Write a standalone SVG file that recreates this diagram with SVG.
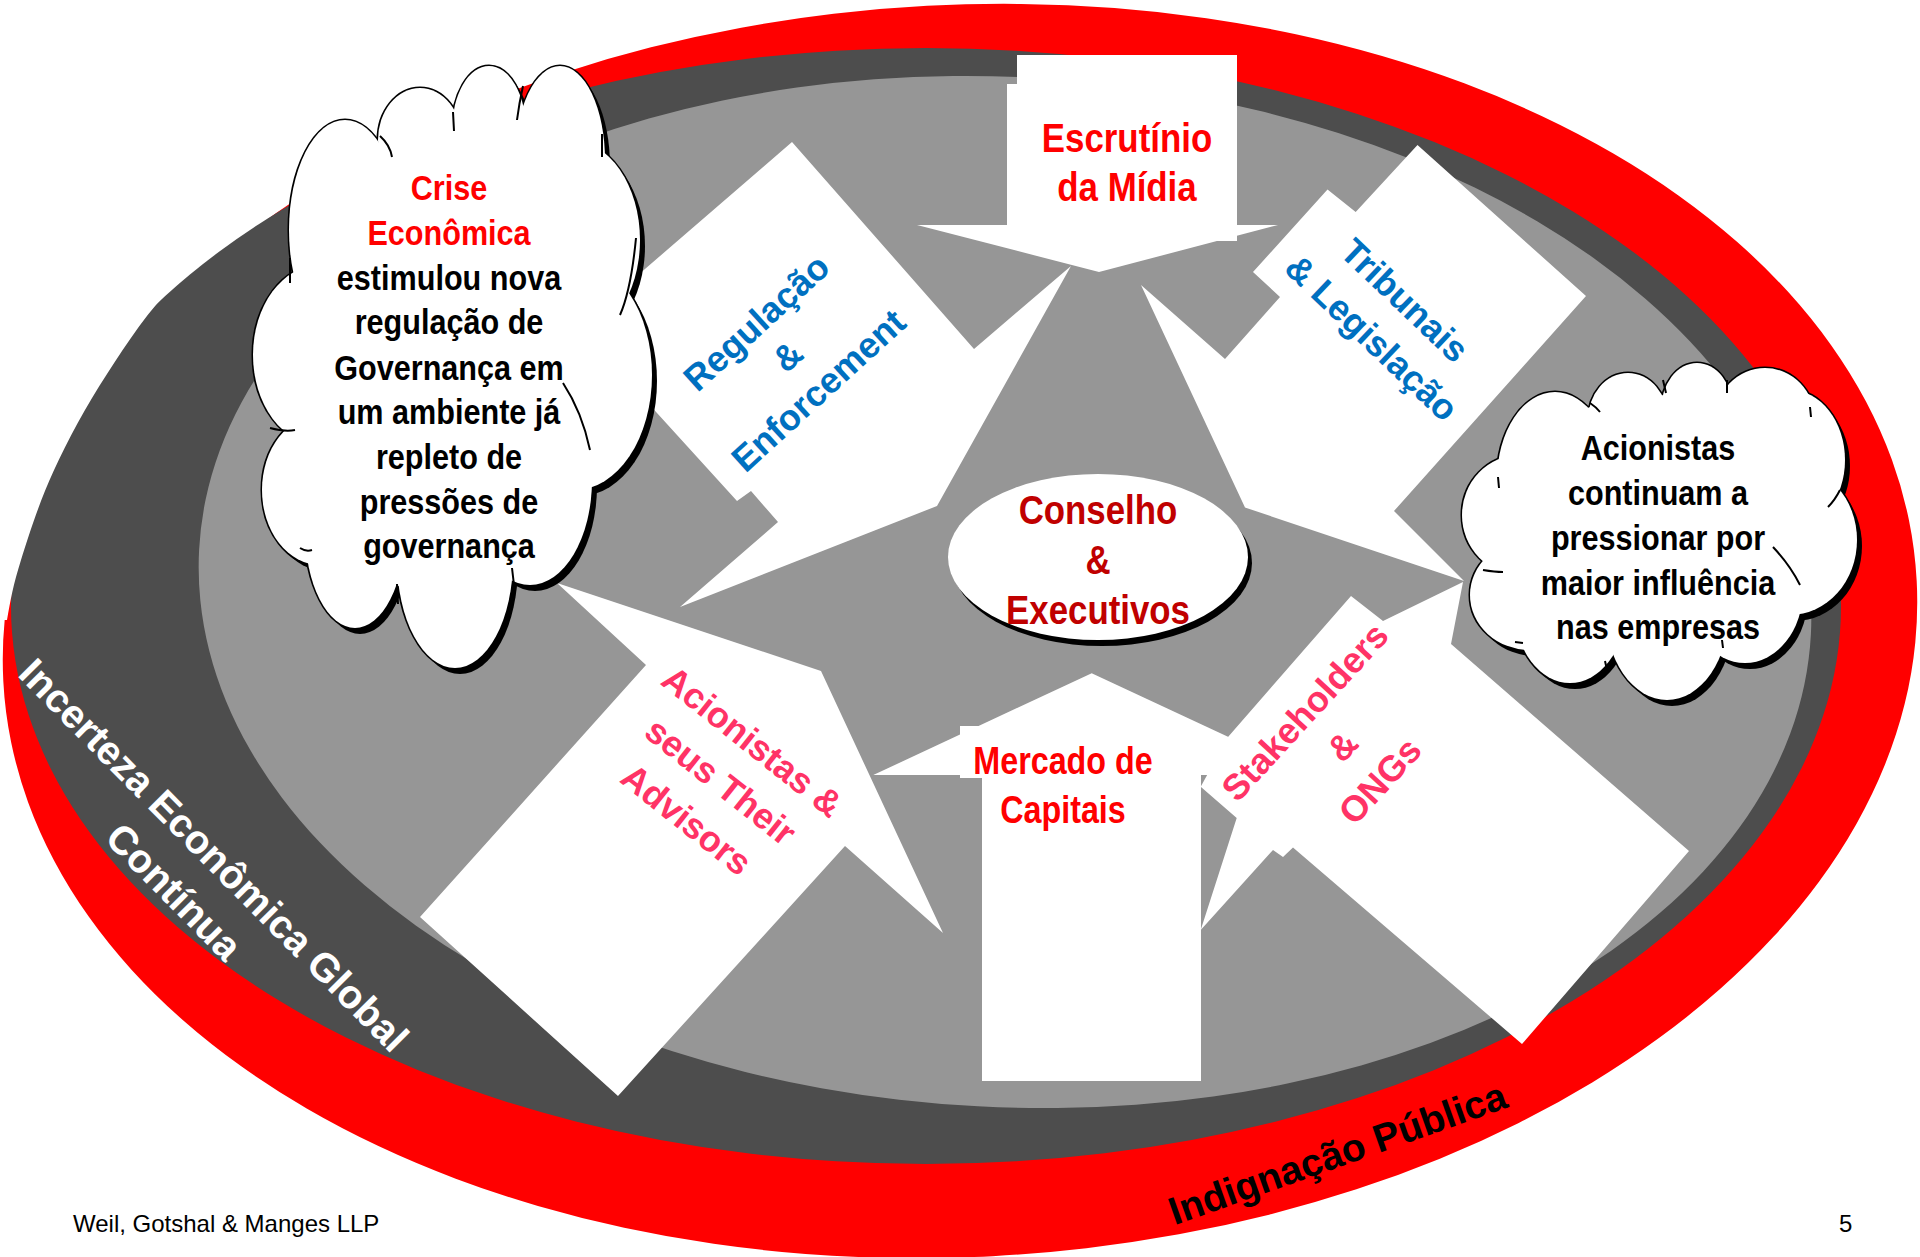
<svg xmlns="http://www.w3.org/2000/svg" width="1920" height="1257" viewBox="0 0 1920 1257">
<style>
.w{fill:#fff}
.b{font-family:"Liberation Sans",Arial,sans-serif;font-weight:bold}
.n{font-family:"Liberation Sans",Arial,sans-serif}
.blue{fill:#0070C0;font-size:36px}
.pink{fill:#FF3366;font-size:36px}
.red{fill:#FF0000}
.dred{fill:#C00000}
.arc{fill:none;stroke:#000;stroke-width:2}
</style>
<defs>
<g id="cloudL">
<ellipse cx="345" cy="230" rx="56" ry="110"/>
<ellipse cx="420" cy="140" rx="42" ry="52"/>
<ellipse cx="489" cy="130" rx="37" ry="64"/>
<ellipse cx="560" cy="160" rx="45" ry="94"/>
<ellipse cx="570" cy="240" rx="70" ry="100"/>
<ellipse cx="575" cy="375" rx="77" ry="115"/>
<ellipse cx="530" cy="480" rx="62" ry="105"/>
<ellipse cx="455" cy="560" rx="58" ry="108"/>
<ellipse cx="355" cy="530" rx="50" ry="98"/>
<ellipse cx="320" cy="490" rx="58" ry="75"/>
<ellipse cx="320" cy="355" rx="67" ry="90"/>
<ellipse cx="450" cy="370" rx="150" ry="230"/>
</g>
<g id="cloudR">
<ellipse cx="1555" cy="480" rx="58" ry="88"/>
<ellipse cx="1628" cy="420" rx="40" ry="47"/>
<ellipse cx="1697" cy="410" rx="36" ry="47"/>
<ellipse cx="1765" cy="420" rx="50" ry="52"/>
<ellipse cx="1790" cy="460" rx="55" ry="70"/>
<ellipse cx="1790" cy="540" rx="67" ry="75"/>
<ellipse cx="1745" cy="590" rx="58" ry="73"/>
<ellipse cx="1667" cy="610" rx="62" ry="90"/>
<ellipse cx="1570" cy="610" rx="55" ry="73"/>
<ellipse cx="1530" cy="595" rx="60" ry="55"/>
<ellipse cx="1520" cy="515" rx="58" ry="60"/>
<ellipse cx="1655" cy="515" rx="150" ry="120"/>
</g>
</defs>

<g id="background">
<ellipse cx="960" cy="631" rx="958" ry="626" transform="rotate(-3 960 631)" fill="#FF0000"/>
<ellipse cx="926" cy="606" rx="915" ry="558" fill="#4D4D4D"/>
<path fill="#fff" d="M0,620 L7,620 C10.5,600 13.2,584.8 21,560 C28.8,535.2 39.3,502 53.6,471 C67.9,440 86.2,405.7 107,374 C127.8,342.3 148.3,309.5 178.6,281 C208.9,252.5 252.1,224.8 289,203 L289,0 L0,0 Z"/>
<ellipse cx="1005" cy="592" rx="807" ry="515" transform="rotate(3 1005 592)" fill="#969696"/>
</g>

<g id="connectors">
<polygon class="w" points="1007,84 1017,84 1017,55 1237,55 1237,225 1278,225 1099,272 917,225 1007,225"/>
<rect class="w" x="1217" y="225" width="20" height="16"/>
<polygon class="w" points="792,142 974,349 1071,266 937,506 680,607 778,522 751,491 737,501 647,402 579,326"/>
<polygon class="w" points="1253,272 1327.5,189.6 1355.7,212 1417.5,145 1586,296 1394,511 1464,581 1245,507.5 1141,285 1225,359 1280,297"/>
<polygon class="w" points="557,583 821,671 943,933 845,846 618,1096 420,917 646,665"/>
<polygon class="w" points="1228,737 1351,596 1383,621 1463,582 1451,644 1689,851 1522,1044 1293,847.5 1283,857 1273,850 1200.7,930 1236.7,818 1200.7,786.7"/>
<polygon class="w" points="1091.7,673.3 1310,775 1201,775 1201,1081 982,1081 982,778 960,778 960,775 873.3,775 960,734.6 960,726 978.5,726"/>
</g>

<g id="node-escrutinio">
<g class="b red" font-size="41" transform="translate(1127,0) scale(0.85,1)" text-anchor="middle">
<text x="0" y="152">Escrutínio</text>
<text x="0" y="201">da Mídia</text>
</g>
</g>

<g id="node-regulacao">
<text class="b blue" transform="translate(787,356) rotate(-42.4)" text-anchor="middle"><tspan x="0" y="-33">Regulação</tspan><tspan x="0" y="13">&amp;</tspan><tspan x="0" y="59">Enforcement</tspan></text>
</g>

<g id="node-tribunais">
<text class="b blue" transform="translate(1388,318) rotate(43.6)" text-anchor="middle"><tspan x="0" y="-12">Tribunais</tspan><tspan x="2" y="38">&amp; Legislação</tspan></text>
</g>

<g id="node-acionistas">
<text class="b pink" transform="translate(721,781) rotate(38.5)" text-anchor="middle"><tspan x="0" y="-38">Acionistas &amp;</tspan><tspan x="0" y="13">seus Their</tspan><tspan x="-3" y="64">Advisors</tspan></text>
</g>

<g id="node-stakeholders">
<text class="b pink" transform="translate(1342,746) rotate(-47.4)" text-anchor="middle"><tspan x="0" y="-38">Stakeholders</tspan><tspan x="0" y="13">&amp;</tspan><tspan x="0" y="64">ONGs</tspan></text>
</g>

<g id="node-mercado">
<g class="b red" font-size="38" transform="translate(1063,0) scale(0.85,1)" text-anchor="middle">
<text x="0" y="774">Mercado de</text>
<text x="0" y="823">Capitais</text>
</g>
</g>

<g id="node-conselho">
<ellipse cx="1102" cy="563" rx="150" ry="83" fill="#000"/>
<ellipse cx="1098" cy="557" rx="150" ry="83" fill="#fff"/>
<g class="b dred" font-size="41" transform="translate(1098,0) scale(0.85,1)" text-anchor="middle">
<text x="0" y="524">Conselho</text>
<text x="0" y="574">&amp;</text>
<text x="0" y="624">Executivos</text>
</g>
</g>

<g id="node-cloud-crise">
<use href="#cloudL" transform="translate(5,6)" fill="#000"/>
<use href="#cloudL" fill="#fff" stroke="#000" stroke-width="3"/>
<use href="#cloudL" fill="#fff"/>
<path class="arc" d="M380,136 Q390,145 392,157 M453,112 L454,131 M523,86 Q519,104 517,120 M602,134 L602,157 M636,238 Q631,290 620,315 M563,383 Q582,412 590,450 M512,568 L514,585 M397,584 L398,604 M300,548 Q306,552 312,550 M270,428 Q285,432 295,430 M290,258 L290,283"/>
<g class="b" font-size="36" transform="translate(449,0) scale(0.85,1)" text-anchor="middle">
<text x="0" y="200" class="red">Crise</text>
<text x="0" y="245" class="red">Econômica</text>
<text x="0" y="290">estimulou nova</text>
<text x="0" y="334">regulação de</text>
<text x="0" y="380">Governança em</text>
<text x="0" y="424">um ambiente já</text>
<text x="0" y="469">repleto de</text>
<text x="0" y="514">pressões de</text>
<text x="0" y="558">governança</text>
</g>
</g>

<g id="node-cloud-acionistas">
<use href="#cloudR" transform="translate(5,6)" fill="#000"/>
<use href="#cloudR" fill="#fff" stroke="#000" stroke-width="3"/>
<use href="#cloudR" fill="#fff"/>
<path class="arc" d="M1498,477 L1499,488 M1590,403 Q1596,407 1600,412 M1663,380 L1666,393 M1727,380 L1727,393 M1810,407 L1811,417 M1840,490 Q1835,500 1828,507 M1773,547 Q1790,565 1800,585 M1722,640 L1723,648 M1605,661 L1607,670 M1483,570 Q1495,572 1503,572 M1515,642 L1523,643"/>
<g class="b" font-size="36" transform="translate(1658,0) scale(0.85,1)" text-anchor="middle">
<text x="0" y="460">Acionistas</text>
<text x="0" y="505">continuam a</text>
<text x="0" y="550">pressionar por</text>
<text x="0" y="595">maior influência</text>
<text x="0" y="639">nas empresas</text>
</g>
</g>

<g id="ring-labels">
<text class="b" font-size="40" fill="#fff" transform="translate(214,855) rotate(45.3)" text-anchor="middle"><tspan x="0" y="14">Incerteza Econômica Global</tspan><tspan x="-2" y="68">Contínua</tspan></text>
<text class="b" font-size="39" fill="#000" transform="translate(1342,1166) rotate(-19.5)" text-anchor="middle">Indignação Pública</text>
</g>

<g id="footer">
<text class="n" font-size="24" x="73" y="1232" fill="#000">Weil, Gotshal &amp; Manges LLP</text>
<text class="n" font-size="24" x="1839" y="1232" fill="#000">5</text>
</g>
</svg>
